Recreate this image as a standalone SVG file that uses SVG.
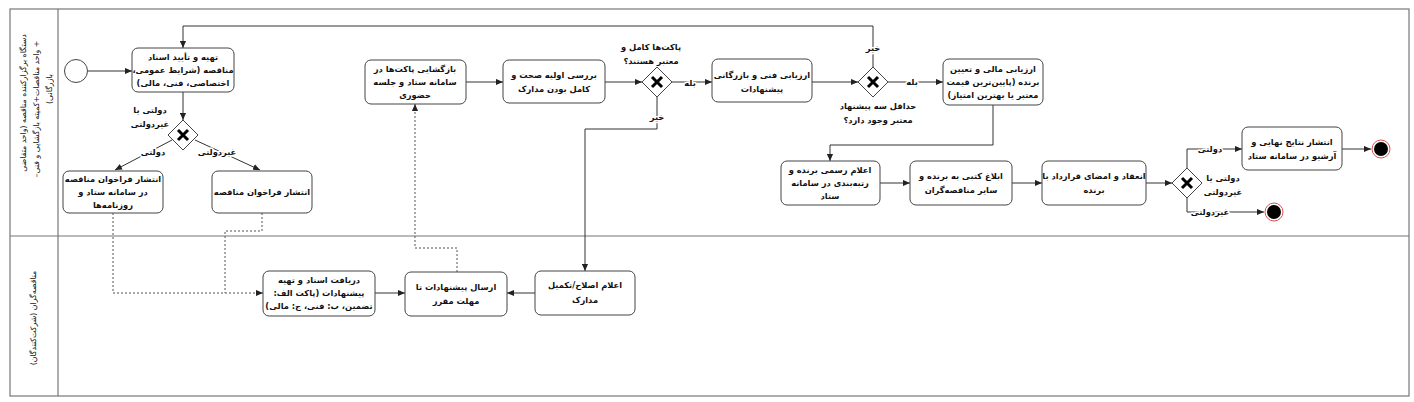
<svg xmlns="http://www.w3.org/2000/svg" width="1414" height="402" viewBox="0 0 1414 402">
<style>
text{font-family:"DejaVu Sans","Noto Sans",sans-serif;font-size:8.3px;font-weight:bold;fill:#111;direction:rtl;text-anchor:middle;dominant-baseline:central}
.ln{font-size:7.8px;font-weight:normal}
.lbl{stroke:#fff;stroke-width:3px;paint-order:stroke;stroke-linejoin:round}
.box{fill:#fff;stroke:#444;stroke-width:1}
.gw{fill:#fff;stroke:#444;stroke-width:1}
.x{stroke:#000;stroke-width:3;stroke-linecap:butt;fill:none}
.e{fill:none;stroke:#333;stroke-width:1}
.d{fill:none;stroke:#555;stroke-width:1;stroke-dasharray:2 2}
.lane{fill:none;stroke:#777;stroke-width:1.2}
</style>
<defs>
<marker id="a" viewBox="0 0 8 8" refX="8" refY="4" markerWidth="7" markerHeight="7" orient="auto" markerUnits="userSpaceOnUse">
<path d="M0,0.5 L8,4 L0,7.5 Z" fill="#222"/>
</marker>
</defs>

<g id="pool">
<rect class="lane" x="10" y="9" width="1399" height="387"/>
<line class="lane" x1="58" y1="9" x2="58" y2="396"/>
<line class="lane" x1="10" y1="236" x2="1409" y2="236"/>
<g transform="translate(23,103) rotate(-90)"><text class="ln" x="0" y="0">دستگاه برگزارکننده مناقصه (واحد متقاضی</text></g>
<g transform="translate(36,109) rotate(-90)"><text class="ln" x="0" y="0">+ واحد مناقصات+کمیته بازگشایی و فنی–</text></g>
<g transform="translate(49,89) rotate(-90)"><text class="ln" x="0" y="0">بازرگانی)</text></g>
<g transform="translate(33,318) rotate(-90)"><text class="ln" x="0" y="0">مناقصه‌گران (شرکت‌کنندگان)</text></g>
</g>

<g id="connectors">
<line class="e" x1="88" y1="71" x2="132" y2="71" marker-end="url(#a)"/>
<line class="e" x1="183" y1="92" x2="183" y2="120" marker-end="url(#a)"/>
<line class="e" x1="172" y1="140" x2="115" y2="170" marker-end="url(#a)"/>
<line class="e" x1="195" y1="140" x2="260" y2="170" marker-end="url(#a)"/>
<polyline class="d" points="113,213 113,293 263,293" marker-end="url(#a)"/>
<polyline class="d" points="262,213 262,231 225,231 225,293"/>
<line class="e" x1="375" y1="293" x2="405" y2="293" marker-end="url(#a)"/>
<polyline class="d" points="457,272 457,248 415,248 415,104" marker-end="url(#a)"/>
<line class="e" x1="535" y1="293" x2="507" y2="293" marker-end="url(#a)"/>
<line class="e" x1="466" y1="82" x2="503" y2="82" marker-end="url(#a)"/>
<line class="e" x1="605" y1="82" x2="642" y2="82" marker-end="url(#a)"/>
<polyline class="e" points="657,97 657,129 585,129 585,271" marker-end="url(#a)"/>
<line class="e" x1="672" y1="82" x2="712" y2="82" marker-end="url(#a)"/>
<line class="e" x1="812" y1="82" x2="858" y2="82" marker-end="url(#a)"/>
<polyline class="e" points="873,67 873,26 183,26 183,48" marker-end="url(#a)"/>
<line class="e" x1="888" y1="82" x2="943" y2="82" marker-end="url(#a)"/>
<polyline class="e" points="993,105 993,145 830,145 830,161" marker-end="url(#a)"/>
<line class="e" x1="880" y1="183" x2="910" y2="183" marker-end="url(#a)"/>
<line class="e" x1="1012" y1="183" x2="1042" y2="183" marker-end="url(#a)"/>
<line class="e" x1="1146" y1="183" x2="1172" y2="183" marker-end="url(#a)"/>
<polyline class="e" points="1187,168 1187,149 1242,149" marker-end="url(#a)"/>
<polyline class="e" points="1187,198 1187,212 1264,212" marker-end="url(#a)"/>
<line class="e" x1="1342" y1="149" x2="1371" y2="149" marker-end="url(#a)"/>
<text class="lbl" x="153" y="152">دولتی</text>
<text class="lbl" x="217" y="152">غیردولتی</text>
<text class="lbl" x="657" y="117">خیر</text>
<text class="lbl" x="690" y="83">بله</text>
<text class="lbl" x="873" y="48">خیر</text>
<text class="lbl" x="912" y="82">بله</text>
<text class="lbl" x="1210" y="149">دولتی</text>
<text class="lbl" x="1210" y="212">غیردولتی</text>
</g>

<g id="start"><circle cx="76" cy="71" r="11.5" fill="#fff" stroke="#444"/></g>

<g id="nA"><rect class="box" x="132" y="48" width="102" height="44" rx="6"/>
<text x="183" y="57">تهیه و تأیید اسناد</text><text x="183" y="70">مناقصه (شرایط عمومی،</text><text x="183" y="83">اختصاصی، فنی، مالی)</text></g>

<g id="gw1"><path class="gw" d="M183,120 L198,135 L183,150 L168,135 Z"/><path class="x" d="M178,130 L188,140 M188,130 L178,140"/>
<text x="150" y="110">دولتی یا</text><text x="150" y="124">غیردولتی</text></g>

<g id="nB1"><rect class="box" x="63" y="171" width="100" height="42" rx="6"/>
<text x="113" y="179">انتشار فراخوان مناقصه</text><text x="113" y="192">در سامانه ستاد و</text><text x="113" y="205">روزنامه‌ها</text></g>

<g id="nB2"><rect class="box" x="212" y="171" width="100" height="42" rx="6"/>
<text x="262" y="192">انتشار فراخوان مناقصه</text></g>

<g id="nC"><rect class="box" x="263" y="271" width="112" height="45" rx="6"/>
<text x="319" y="280">دریافت اسناد و تهیه</text><text x="319" y="293">پیشنهادات (پاکت الف:</text><text x="319" y="306">تضمین، ب: فنی، ج: مالی)</text></g>

<g id="nD"><rect class="box" x="405" y="272" width="102" height="44" rx="6"/>
<text x="456" y="287">ارسال پیشنهادات تا</text><text x="456" y="301">مهلت مقرر</text></g>

<g id="nF"><rect class="box" x="535" y="271" width="100" height="44" rx="6"/>
<text x="585" y="285">اعلام اصلاح/تکمیل</text><text x="585" y="300">مدارک</text></g>

<g id="nE"><rect class="box" x="365" y="60" width="101" height="44" rx="6"/>
<text x="415" y="69">بازگشایی پاکت‌ها در</text><text x="415" y="82">سامانه ستاد و جلسه</text><text x="415" y="95">حضوری</text></g>

<g id="nG"><rect class="box" x="503" y="60" width="102" height="43" rx="6"/>
<text x="554" y="75">بررسی اولیه صحت و</text><text x="554" y="89">کامل بودن مدارک</text></g>

<g id="gw2"><path class="gw" d="M657,67 L672,82 L657,97 L642,82 Z"/><path class="x" d="M652,77 L662,87 M662,77 L652,87"/>
<text x="651" y="47">پاکت‌ها کامل و</text><text x="651" y="61">معتبر هستند؟</text></g>

<g id="nH"><rect class="box" x="712" y="59" width="100" height="43" rx="6"/>
<text x="762" y="75">ارزیابی فنی و بازرگانی</text><text x="762" y="89">پیشنهادات</text></g>

<g id="gw3"><path class="gw" d="M873,67 L888,82 L873,97 L858,82 Z"/><path class="x" d="M868,77 L878,87 M878,77 L868,87"/>
<text x="878" y="106">حداقل سه پیشنهاد</text><text x="878" y="120">معتبر وجود دارد؟</text></g>

<g id="nI"><rect class="box" x="943" y="59" width="100" height="46" rx="6"/>
<text x="993" y="69">ارزیابی مالی و تعیین</text><text x="993" y="82">برنده (پایین‌ترین قیمت</text><text x="993" y="95">معتبر یا بهترین امتیاز)</text></g>

<g id="nJ"><rect class="box" x="781" y="161" width="99" height="44" rx="6"/>
<text x="830" y="170">اعلام رسمی برنده و</text><text x="830" y="183">رتبه‌بندی در سامانه</text><text x="830" y="196">ستاد</text></g>

<g id="nK"><rect class="box" x="910" y="161" width="102" height="44" rx="6"/>
<text x="961" y="176">ابلاغ کتبی به برنده و</text><text x="961" y="190">سایر مناقصه‌گران</text></g>

<g id="nL"><rect class="box" x="1042" y="161" width="104" height="44" rx="6"/>
<text x="1094" y="176">انعقاد و امضای قرارداد با</text><text x="1094" y="190">برنده</text></g>

<g id="gw4"><path class="gw" d="M1187,168 L1202,183 L1187,198 L1172,183 Z"/><path class="x" d="M1182,178 L1192,188 M1192,178 L1182,188"/>
<text x="1223" y="178">دولتی یا</text><text x="1223" y="192">غیردولتی</text></g>

<g id="nM"><rect class="box" x="1242" y="127" width="100" height="43" rx="6"/>
<text x="1292" y="142">انتشار نتایج نهایی و</text><text x="1292" y="156">آرشیو در سامانه ستاد</text></g>

<g id="end1"><circle cx="1381" cy="149" r="9" fill="#fff" stroke="#d85050" stroke-width="1"/><circle cx="1381" cy="149" r="7" fill="#000"/></g>
<g id="end2"><circle cx="1274" cy="212" r="9" fill="#fff" stroke="#d85050" stroke-width="1"/><circle cx="1274" cy="212" r="7" fill="#000"/></g>
</svg>
